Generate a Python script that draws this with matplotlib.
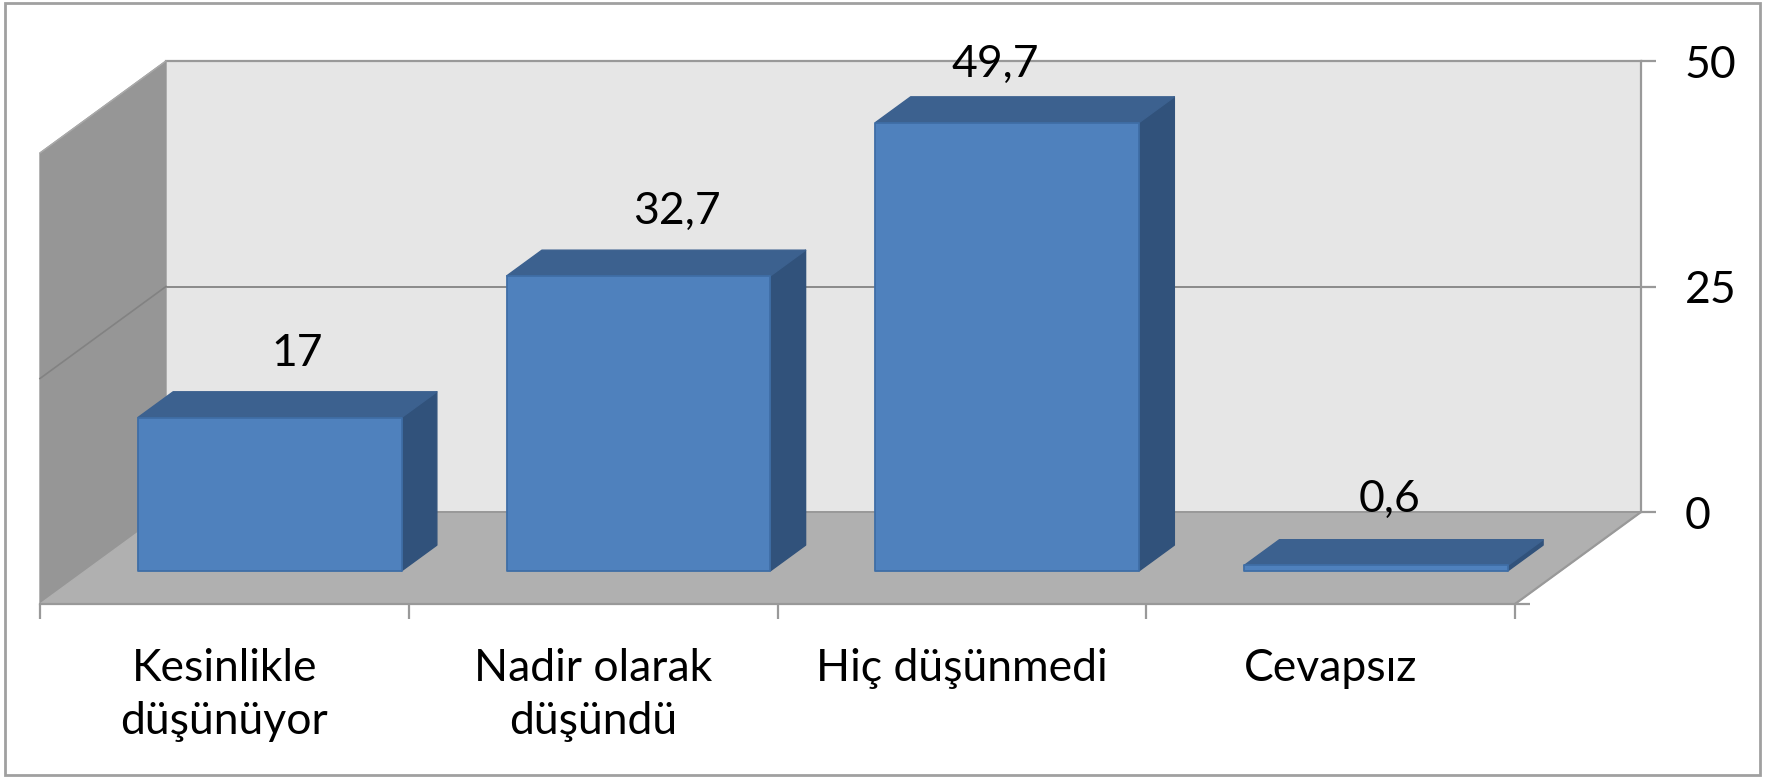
#!/usr/bin/env python3
"""3D-look column chart, faked with oblique polygons on two overlaid axes -> out.png."""
import matplotlib
matplotlib.use("Agg")
import matplotlib.pyplot as plt
from matplotlib.patches import Polygon, Rectangle
from matplotlib.transforms import ScaledTranslation

plt.rcParams["font.family"] = ["Lato", "DejaVu Sans"]

CATEGORIES = ["Kesinlikle\ndüşünüyor", "Nadir olarak\ndüşündü", "Hiç düşünmedi", "Cevapsız"]
VALUES = [17, 32.7, 49.7, 0.6]
VALUE_LABELS = ["17", "32,7", "49,7", "0,6"]
Y_TICKS = [0, 25, 50]

W, H = 1773, 777
FRONT = (40, 604, 1475, 451)      # front plane in px: left, bottom, width, height
DEPTH = (126, 92)                 # px shift from front plane to back wall
BAR_W, D0, D1 = 0.715, 0.36, 0.64  # bar width (slot fraction), depth range of the bars
NUDGE = [(-8, 38), (3, 39), (-47, 32), (-22, 40)]  # label offset from bar top, px (as placed in the original)
FS = 32
GREY = "#999999"

DX = DEPTH[0] / (FRONT[2] / len(VALUES))   # depth shift in data units
DY = DEPTH[1] / (FRONT[3] / Y_TICKS[-1])


def proj(x, y, d):
    return x + d * DX, y + d * DY


def poly(ax, pts, color, edge=None, lw=1.0, z=2):
    ax.add_patch(Polygon(pts, closed=True, facecolor=color, edgecolor=edge or color,
                         lw=lw, clip_on=False, zorder=z, joinstyle="round"))


fig = plt.figure(figsize=(W / 100, H / 100), dpi=100, facecolor="white")
fig.add_artist(Rectangle((5 / W, 1 - 775 / H), 1755 / W, 772 / H, transform=fig.transFigure,
                         fill=False, edgecolor="#a0a0a0", lw=2))

# back wall: own axes shifted by the depth, carries the value axis
back = fig.add_axes([(FRONT[0] + DEPTH[0]) / W, (H - FRONT[1] + DEPTH[1]) / H, FRONT[2] / W, FRONT[3] / H])
back.set_xlim(0, len(VALUES)); back.set_ylim(0, Y_TICKS[-1])
back.set_facecolor("#e6e6e6")
for s in ["left", "bottom"]:
    back.spines[s].set_visible(False)
for s in ["top", "right"]:
    back.spines[s].set_color(GREY); back.spines[s].set_linewidth(1.6)
back.set_xticks([])
back.set_yticks(Y_TICKS)
back.yaxis.tick_right()
back.tick_params(axis="y", length=10.5, width=1.6, color=GREY, pad=21, labelsize=FS)
for t in back.get_yticklabels():
    t.set_verticalalignment("center")
    t.set_transform(t.get_transform() + ScaledTranslation(0, -3 / 72, fig.dpi_scale_trans))
back.grid(axis="y", color="#8a8a8a", lw=1.4)
back.set_axisbelow(True)

# front plane: bars, floor, side wall and the category axis
ax = fig.add_axes([FRONT[0] / W, (H - FRONT[1]) / H, FRONT[2] / W, FRONT[3] / H])
ax.set_xlim(0, len(VALUES)); ax.set_ylim(0, Y_TICKS[-1])
ax.patch.set_alpha(0)
for s in ["left", "right", "top"]:
    ax.spines[s].set_visible(False)
ax.spines["bottom"].set_color(GREY); ax.spines["bottom"].set_linewidth(1.6)
ax.set_xticks(range(len(VALUES) + 1))
ax.set_xticklabels([])
ax.set_xticks([i + 0.5 for i in range(len(VALUES))], CATEGORIES, minor=True)
ax.tick_params(axis="x", which="major", length=10.5, width=1.6, color=GREY)
ax.tick_params(axis="x", which="minor", length=0, pad=31.5, labelsize=FS)
for t in ax.get_xticklabels(minor=True):
    t.set_linespacing(1.37)
ax.set_yticks([0]); ax.set_yticklabels([])
ax.yaxis.tick_right()
ax.tick_params(axis="y", length=10.5, width=1.6, color=GREY)

top = Y_TICKS[-1]
n = len(VALUES)
poly(ax, [proj(0, 0, 0), proj(0, 0, 1), proj(0, top, 1), proj(0, top, 0)], "#969696", z=1)
poly(ax, [proj(0, 0, 0), proj(n, 0, 0), proj(n, 0, 1), proj(0, 0, 1)], "#b0b0b0", z=1)
ax.plot(*zip(proj(0, 25, 0), proj(0, 25, 1)), color="#828282", lw=1.2, clip_on=False, zorder=1.5)
ax.plot(*zip(proj(0, 0, 1), proj(n, 0, 1)), color=GREY, lw=1.4, clip_on=False, zorder=1.5)
ax.plot(*zip(proj(n, 0, 0), proj(n, 0, 1)), color=GREY, lw=1.6, clip_on=False, zorder=1.5)
ax.plot(*zip(proj(0, top, 0), proj(0, top, 1)), color="#aaaaaa", lw=1.0, clip_on=False, zorder=1.5)

for i, (v, lab, nudge) in enumerate(zip(VALUES, VALUE_LABELS, NUDGE)):
    x0 = i + 0.5 - BAR_W / 2
    x1 = i + 0.5 + BAR_W / 2
    poly(ax, [proj(x1, 0, D0), proj(x1, 0, D1), proj(x1, v, D1), proj(x1, v, D0)], "#31527b", z=3)
    poly(ax, [proj(x0, v, D0), proj(x1, v, D0), proj(x1, v, D1), proj(x0, v, D1)], "#3c618f", z=3)
    poly(ax, [proj(x0, 0, D0), proj(x1, 0, D0), proj(x1, v, D0), proj(x0, v, D0)], "#4f81bd",
         edge="#3f6ea6", lw=1.3, z=4)
    ax.annotate(lab, proj(i + 0.5, v, D1), xytext=(nudge[0] * 0.72, nudge[1] * 0.72),
                textcoords="offset points", ha="center", va="center", fontsize=FS,
                color="black", zorder=6, annotation_clip=False)

fig.savefig("out.png", dpi=100, facecolor="white")
